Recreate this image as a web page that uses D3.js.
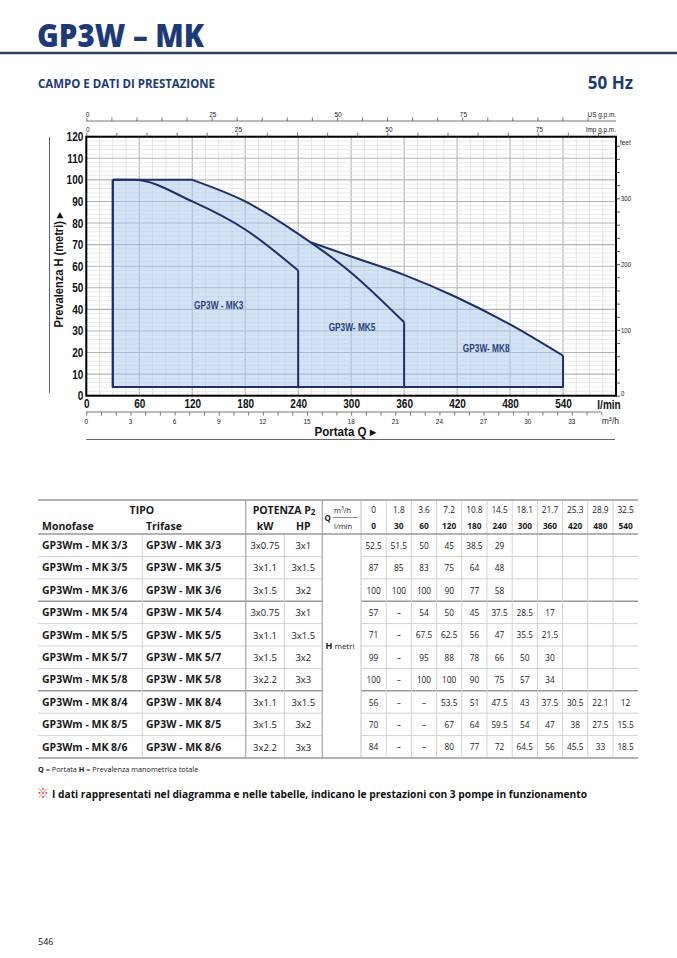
<!DOCTYPE html>
<html><head><meta charset="utf-8">
<script src="https://cdn.jsdelivr.net/npm/d3@7"></script>
<style>body{margin:0;background:#fff} svg{display:block}</style>
</head><body><svg id="c" width="677" height="958"></svg>
<script>
// ---------- chart data ----------
const flowAxisTicks = [0, 60, 120, 180, 240, 300, 360, 420, 480, 540];
const headAxisTicks = [0, 10, 20, 30, 40, 50, 60, 70, 80, 90, 100, 110, 120];
const m3hAxisLabels = [0, 3, 6, 9, 12, 15, 18, 21, 24, 27, 30, 33];
const usGpmLabels = [0, 25, 50, 75];
const impGpmLabels = [0, 25, 50, 75];
const feetLabels = [0, 100, 200, 300];

// envelope curves (flow l/min, head m)
const mk3Flow = [30, 54, 120, 180, 240];
const mk3Head = [100, 100, 90, 77, 58];
const mk5Flow = [120, 180, 240, 300, 360];
const mk5Head = [100, 90, 75, 57, 34];
const mk8Flow = [255, 300, 360, 420, 480, 540];
const mk8Head = [71, 64.5, 56, 45.5, 33, 18.5];
const envelopeMinFlow = 30;
const envelopeMinHead = 4;
const regionNames = ["GP3W - MK3", "GP3W- MK5", "GP3W- MK8"];
const regionLabelFlow = [150, 301, 453];
const regionLabelHead = [42, 32, 22];

// ---------- table data ----------
const qM3h = ["0", "1.8", "3.6", "7.2", "10.8", "14.5", "18.1", "21.7", "25.3", "28.9", "32.5"];
const qLmin = ["0", "30", "60", "120", "180", "240", "300", "360", "420", "480", "540"];
const monofase = ["GP3Wm - MK 3/3", "GP3Wm - MK 3/5", "GP3Wm - MK 3/6", "GP3Wm - MK 5/4", "GP3Wm - MK 5/5",
  "GP3Wm - MK 5/7", "GP3Wm - MK 5/8", "GP3Wm - MK 8/4", "GP3Wm - MK 8/5", "GP3Wm - MK 8/6"];
const trifase = ["GP3W - MK 3/3", "GP3W - MK 3/5", "GP3W - MK 3/6", "GP3W - MK 5/4", "GP3W - MK 5/5",
  "GP3W - MK 5/7", "GP3W - MK 5/8", "GP3W - MK 8/4", "GP3W - MK 8/5", "GP3W - MK 8/6"];
const powerKW = ["3x0.75", "3x1.1", "3x1.5", "3x0.75", "3x1.1", "3x1.5", "3x2.2", "3x1.1", "3x1.5", "3x2.2"];
const powerHP = ["3x1", "3x1.5", "3x2", "3x1", "3x1.5", "3x2", "3x3", "3x1.5", "3x2", "3x3"];
const headRows = [
  ["52.5", "51.5", "50", "45", "38.5", "29"],
  ["87", "85", "83", "75", "64", "48"],
  ["100", "100", "100", "90", "77", "58"],
  ["57", "–", "54", "50", "45", "37.5", "28.5", "17"],
  ["71", "–", "67.5", "62.5", "56", "47", "35.5", "21.5"],
  ["99", "–", "95", "88", "78", "66", "50", "30"],
  ["100", "–", "100", "100", "90", "75", "57", "34"],
  ["56", "–", "–", "53.5", "51", "47.5", "43", "37.5", "30.5", "22.1", "12"],
  ["70", "–", "–", "67", "64", "59.5", "54", "47", "38", "27.5", "15.5"],
  ["84", "–", "–", "80", "77", "72", "64.5", "56", "45.5", "33", "18.5"]
];
const groupEnds = [3, 7];

// ---------- drawing ----------
const svg = d3.select("#c");
const NAVY = "#1d3a78", LINE = "#1f2f6b";
const COND = "'Liberation Sans',Arial,sans-serif";
const SANS = "'Open Sans','Noto Sans',sans-serif";
function condense(sel, f) {
  sel.each(function () {
    const w = this.getComputedTextLength();
    d3.select(this).attr("textLength", w * f).attr("lengthAdjust", "spacingAndGlyphs");
  });
}

// header
svg.append("text").attr("x", 37).attr("y", 47).text("GP3W – MK")
  .attr("font-family", SANS).attr("font-weight", 800).attr("font-size", 31).attr("fill", NAVY)
  .attr("textLength", 167).attr("lengthAdjust", "spacingAndGlyphs");
svg.append("line").attr("x1", 0).attr("x2", 677).attr("y1", 53).attr("y2", 53)
  .attr("stroke", "#2f3f68").attr("stroke-width", 2.5);
svg.append("text").attr("x", 38).attr("y", 88).text("CAMPO E DATI DI PRESTAZIONE")
  .attr("font-family", SANS).attr("font-weight", 700).attr("font-size", 11.5).attr("fill", NAVY)
  .attr("textLength", 177).attr("lengthAdjust", "spacingAndGlyphs");
svg.append("text").attr("x", 633).attr("y", 89).attr("text-anchor", "end").text("50 Hz")
  .attr("font-family", SANS).attr("font-weight", 700).attr("font-size", 17).attr("fill", NAVY);

// scales
const X0 = 86.3, X1 = 616, Y0 = 395.7, Y1 = 136.7;
const x = d3.scaleLinear().domain([0, 600]).range([X0, X1]);
const y = d3.scaleLinear().domain([0, 120]).range([Y0, Y1]);
const xUS = d3.scaleLinear().domain([0, 600 / (3.785 * 1.5)]).range([X0, X1]);
const xImp = d3.scaleLinear().domain([0, 600 / (4.546 * 1.5)]).range([X0, X1]);
const xM3 = d3.scaleLinear().domain([0, 36]).range([X0, X1]);
const yFt = d3.scaleLinear().domain([0, 120 / 0.3048]).range([Y0, Y1]);

// grid
const grid = svg.append("g");
grid.selectAll(".vm").data(d3.range(0, 601, 15)).join("line")
  .attr("x1", d => x(d)).attr("x2", d => x(d)).attr("y1", Y1).attr("y2", Y0)
  .attr("stroke", d => d % 60 === 0 ? "#b3b3b3" : "#dedede").attr("stroke-width", d => d % 60 === 0 ? 1.1 : 0.8);
grid.selectAll(".hm").data(d3.range(0, 121, 2)).join("line")
  .attr("y1", d => y(d)).attr("y2", d => y(d)).attr("x1", X0).attr("x2", X1)
  .attr("stroke", d => d % 10 === 0 ? "#b3b3b3" : "#e2e2e2").attr("stroke-width", d => d % 10 === 0 ? 1.1 : 0.7);

// envelopes
const regions = [
  {flow: mk3Flow, head: mk3Head, closed: true},
  {flow: mk5Flow, head: mk5Head, closed: true},
  {flow: mk8Flow, head: mk8Head, closed: false}
].map(r => ({pts: r.flow.map((q, i) => ({q, h: r.head[i]})), closed: r.closed}));

const area = d3.area().x(d => x(d.q)).y0(y(envelopeMinHead)).y1(d => y(d.h)).curve(d3.curveMonotoneX);
const areaLin = d3.area().x(d => x(d.q)).y0(y(envelopeMinHead)).y1(d => y(d.h));
const fillG = svg.append("g").attr("opacity", 0.5);
regions.forEach(r => {
  fillG.append("path").attr("d", area(r.pts)).attr("fill", "#a5c9ec");
  if (r.closed && r.pts[0].q > envelopeMinFlow)
    fillG.append("path").attr("d", areaLin([{q: envelopeMinFlow, h: r.pts[0].h}, r.pts[0]])).attr("fill", "#a5c9ec");
});

const line = d3.line().x(d => x(d.q)).y(d => y(d.h)).curve(d3.curveMonotoneX);
const straight = d3.line().x(d => x(d.q)).y(d => y(d.h));
const outG = svg.append("g").attr("fill", "none").attr("stroke", LINE).attr("stroke-width", 2).attr("stroke-linejoin", "round");
regions.forEach(r => {
  const p = r.pts, first = p[0], last = p[p.length - 1];
  let d = line(p);
  if (r.closed && first.q > envelopeMinFlow)
    d = straight([{q: envelopeMinFlow, h: first.h}, first]) + "L" + d.slice(1);
  outG.append("path").attr("d", d);
  const start = r.closed ? envelopeMinFlow : first.q;
  const frame = [{q: last.q, h: last.h}, {q: last.q, h: envelopeMinHead}, {q: start, h: envelopeMinHead}];
  if (r.closed) frame.push({q: start, h: first.h});
  outG.append("path").attr("d", straight(frame));
});

const rl = svg.selectAll(".rl").data(regionNames).join("text")
  .attr("x", (d, i) => x(regionLabelFlow[i])).attr("y", (d, i) => y(regionLabelHead[i]))
  .attr("dy", "0.35em").attr("text-anchor", "middle").text(d => d)
  .attr("font-family", COND).attr("font-weight", 700).attr("font-size", 11.5).attr("fill", "#283f80");
condense(rl, 0.72);

// frame
svg.append("rect").attr("x", X0).attr("y", Y1).attr("width", X1 - X0).attr("height", Y0 - Y1)
  .attr("fill", "none").attr("stroke", "#000").attr("stroke-width", 2);

// left axis
const yAx = svg.append("g").attr("transform", `translate(${X0},0)`)
  .call(d3.axisLeft(y).tickValues(headAxisTicks).tickSize(0).tickPadding(3));
yAx.select(".domain").remove();
yAx.selectAll("text").attr("font-family", COND).attr("font-weight", 700).attr("font-size", 12.5).attr("fill", "#111");
condense(yAx.selectAll("text"), 0.8);

// bottom l/min axis
const xAx = svg.append("g").attr("transform", `translate(0,${Y0})`)
  .call(d3.axisBottom(x).tickValues(flowAxisTicks).tickSize(0).tickPadding(3.5));
xAx.select(".domain").remove();
xAx.selectAll("text").attr("font-family", COND).attr("font-weight", 700).attr("font-size", 12.5).attr("fill", "#111");
condense(xAx.selectAll("text"), 0.8);
const lmin = svg.append("text").attr("x", 609).attr("y", 409).attr("text-anchor", "middle").text("l/min")
  .attr("font-family", COND).attr("font-weight", 700).attr("font-size", 12.5).attr("fill", "#111");
condense(lmin, 0.8);

// m3/h axis
const m3Ax = svg.append("g").attr("transform", "translate(0,412)")
  .call(d3.axisBottom(xM3).tickValues(d3.range(0, 36, 1)).tickSize(3.5).tickFormat(""));
m3Ax.select(".domain").attr("d", `M${X0},0H${xM3(35)}`).attr("stroke", "#555").attr("stroke-width", 0.8);
m3Ax.selectAll(".tick line").attr("stroke", "#555").attr("stroke-width", 0.8);
const m3l = svg.selectAll(".m3l").data(m3hAxisLabels).join("text")
  .attr("x", d => xM3(d)).attr("y", 424).attr("text-anchor", "middle").text(d => d)
  .attr("font-family", COND).attr("font-size", 8).attr("fill", "#222");
condense(m3l, 0.8);
svg.append("text").attr("x", 619).attr("y", 424).attr("text-anchor", "end")
  .attr("font-family", COND).attr("font-size", 8.5).attr("fill", "#222")
  .html('m<tspan dy="-3" font-size="5.5">3</tspan><tspan dy="3">/h</tspan>');
svg.append("text").attr("x", 345).attr("y", 436).attr("text-anchor", "middle").text("Portata  Q  ▸")
  .attr("font-family", COND).attr("font-weight", 700).attr("font-size", 12).attr("fill", "#111")
  .attr("textLength", 61).attr("lengthAdjust", "spacingAndGlyphs");
svg.append("line").attr("x1", X0).attr("x2", 615).attr("y1", 439.5).attr("y2", 439.5)
  .attr("stroke", "#666").attr("stroke-width", 1);

// y title
svg.append("line").attr("x1", 49.5).attr("x2", 49.5).attr("y1", 137).attr("y2", 393)
  .attr("stroke", "#666").attr("stroke-width", 1);
svg.append("text").attr("transform", "translate(63,270) rotate(-90)").attr("text-anchor", "middle")
  .text("Prevalenza  H  (metri)  ▸")
  .attr("font-family", COND).attr("font-weight", 700).attr("font-size", 12).attr("fill", "#111")
  .attr("textLength", 115).attr("lengthAdjust", "spacingAndGlyphs");

// top US gpm axis
const usAx = svg.append("g").attr("transform", "translate(0,121)")
  .call(d3.axisTop(xUS).tickValues(d3.range(0, 105, 5)).tickSize(3.5).tickFormat(""));
usAx.select(".domain").attr("d", `M${X0},0H${X1}`).attr("stroke", "#555").attr("stroke-width", 0.8);
usAx.selectAll(".tick line").attr("stroke", "#555").attr("stroke-width", 0.8);
const usl = svg.selectAll(".usl").data(usGpmLabels).join("text")
  .attr("x", d => xUS(d) + 1.2).attr("y", 117).attr("text-anchor", "middle").text(d => d)
  .attr("font-family", COND).attr("font-size", 8).attr("fill", "#222");
condense(usl, 0.8);
const usT = svg.append("text").attr("x", 616).attr("y", 116.5).attr("text-anchor", "end").text("US g.p.m.")
  .attr("font-family", COND).attr("font-size", 8).attr("fill", "#222");
condense(usT, 0.8);

// top Imp gpm ticks
const impAx = svg.append("g").attr("transform", `translate(0,${Y1})`)
  .call(d3.axisTop(xImp).tickValues(d3.range(0, 88, 5)).tickSize(4).tickFormat(""));
impAx.select(".domain").remove();
impAx.selectAll(".tick line").attr("stroke", "#555").attr("stroke-width", 0.8);
const impl = svg.selectAll(".impl").data(impGpmLabels).join("text")
  .attr("x", d => xImp(d) + 1.6).attr("y", 131.5).attr("text-anchor", "middle").text(d => d)
  .attr("font-family", COND).attr("font-size", 8).attr("fill", "#222");
condense(impl, 0.8);
const impT = svg.append("text").attr("x", 616).attr("y", 131.5).attr("text-anchor", "end").text("Imp g.p.m.")
  .attr("font-family", COND).attr("font-size", 8).attr("fill", "#222");
condense(impT, 0.8);

// right feet axis
const ftAx = svg.append("g").attr("transform", `translate(${X1},0)`)
  .call(d3.axisRight(yFt).tickValues(d3.range(0, 381, 20)).tickSize(4).tickFormat(""));
ftAx.select(".domain").remove();
ftAx.selectAll(".tick line").attr("stroke", "#333").attr("stroke-width", 0.8);
const ftl = svg.selectAll(".ftl").data(feetLabels).join("text")
  .attr("x", X1 + 5).attr("y", d => yFt(d)).attr("dy", d => d === 0 ? "0.1em" : "0.35em").text(d => d)
  .attr("font-family", COND).attr("font-size", 7.5).attr("fill", "#222");
condense(ftl, 0.8);
const feetT = svg.append("text").attr("x", 620).attr("y", 145).text("feet")
  .attr("font-family", COND).attr("font-size", 8).attr("fill", "#222");
condense(feetT, 0.8);

// ---------- table ----------
const TX0 = 38, TX1 = 638, TTOP = 500, THB = 534, RH = 22.4;
const cTri = 142.3, cKw = 245.7, cHp = 284.3, cQ = 322.3, cNum = 361, colW = 25.2;
const TBOT = THB + RH * monofase.length;
const tg = svg.append("g");
const hl = (x1, x2, yy, col, w) => tg.append("line").attr("x1", x1).attr("x2", x2).attr("y1", yy).attr("y2", yy).attr("stroke", col).attr("stroke-width", w);
const vl = (xx, y1, y2, col, w) => tg.append("line").attr("x1", xx).attr("x2", xx).attr("y1", y1).attr("y2", y2).attr("stroke", col).attr("stroke-width", w);

for (let i = 1; i < monofase.length; i++) {
  const yy = THB + RH * i;
  const grp = groupEnds.includes(i);
  hl(TX0, cQ, yy, grp ? "#9a9a9a" : "#d2d2d2", grp ? 1.5 : 1);
  hl(cNum, TX1, yy, grp ? "#9a9a9a" : "#d2d2d2", grp ? 1.5 : 1);
}
vl(cTri, THB, TBOT, "#d2d2d2", 1);
vl(cHp, THB, TBOT, "#d2d2d2", 1);
vl(cKw, TTOP, TBOT, "#a8a8a8", 1.2);
vl(cQ, TTOP, TBOT, "#a8a8a8", 1.2);
qLmin.forEach((d, i) => { if (i > 0) vl(cNum + colW * i, TTOP, TBOT, "#d2d2d2", 1); });
vl(cNum, TTOP, TBOT, "#c4c4c4", 1);
hl(TX0, TX1, TTOP, "#9a9a9a", 1.6);
hl(TX0, TX1, THB, "#9a9a9a", 1.4);
hl(TX0, TX1, TBOT, "#9a9a9a", 1.6);

const txt = (xx, yy, s, o = {}) => tg.append("text").attr("x", xx).attr("y", yy).text(s)
  .attr("text-anchor", o.anchor || "start").attr("font-family", SANS)
  .attr("font-weight", o.bold ? 700 : 400).attr("font-size", o.size || 9).attr("fill", o.fill || "#1a1a1a");

txt((TX0 + cKw) / 2, 513.5, "TIPO", {anchor: "middle", bold: true, size: 10.5});
tg.append("text").attr("x", (cKw + cQ) / 2).attr("y", 513.5).attr("text-anchor", "middle")
  .attr("font-family", SANS).attr("font-weight", 700).attr("font-size", 10.5).attr("fill", "#1a1a1a")
  .html('POTENZA P<tspan font-size="8" dy="1">2</tspan>');
txt(42, 529.5, "Monofase", {bold: true, size: 10.5});
txt(146, 529.5, "Trifase", {bold: true, size: 10.5});
txt((cKw + cHp) / 2, 529.5, "kW", {anchor: "middle", bold: true, size: 10.5});
txt((cHp + cQ) / 2, 529.5, "HP", {anchor: "middle", bold: true, size: 10.5});
txt(324.5, 520.5, "Q", {bold: true, size: 8});
tg.append("text").attr("x", 334).attr("y", 512.5).attr("font-family", SANS).attr("font-size", 7.5).attr("fill", "#1a1a1a")
  .html('m<tspan dy="-2.5" font-size="5">3</tspan><tspan dy="2.5">/h</tspan>');
txt(334, 528.5, "l/min", {size: 7.5});
tg.append("line").attr("x1", 333).attr("x2", 358).attr("y1", 517.5).attr("y2", 517.5).attr("stroke", "#444").attr("stroke-width", 0.6);
tg.selectAll(".qm").data(qM3h).join("text").attr("x", (d, i) => cNum + colW * (i + 0.5)).attr("y", 512.5)
  .attr("text-anchor", "middle").text(d => d).attr("font-family", SANS).attr("font-size", 8.3).attr("fill", "#1a1a1a");
tg.selectAll(".ql").data(qLmin).join("text").attr("x", (d, i) => cNum + colW * (i + 0.5)).attr("y", 528.5)
  .attr("text-anchor", "middle").text(d => d).attr("font-family", SANS).attr("font-weight", 700).attr("font-size", 8.3).attr("fill", "#1a1a1a");

monofase.forEach((m, r) => {
  const yy = THB + RH * (r + 0.5) + 3.8;
  txt(42, yy, m, {bold: true, size: 10.5});
  txt(146, yy, trifase[r], {bold: true, size: 10.5});
  txt((cKw + cHp) / 2, yy, powerKW[r], {anchor: "middle", size: 9.5});
  txt((cHp + cQ) / 2, yy, powerHP[r], {anchor: "middle", size: 9.5});
  headRows[r].forEach((v, c) => txt(cNum + colW * (c + 0.5), yy - 0.3, v, {anchor: "middle", size: 8.3}));
});
tg.append("text").attr("x", 325.5).attr("y", (THB + TBOT) / 2 + 3).attr("font-family", SANS).attr("font-size", 8).attr("fill", "#1a1a1a")
  .html('<tspan font-weight="700" font-size="9">H</tspan> metri');

// footnotes
svg.append("text").attr("x", 38).attr("y", 771.5).attr("font-family", SANS).attr("font-size", 7.3).attr("fill", "#1a1a1a")
  .html('<tspan font-weight="700">Q</tspan> = Portata   <tspan font-weight="700">H</tspan> = Prevalenza manometrica totale');
svg.append("text").attr("x", 37).attr("y", 798).text("※").attr("font-family", "'Noto Sans CJK JP','DejaVu Sans',sans-serif")
  .attr("font-weight", 700).attr("font-size", 12).attr("fill", "#e0301e");
svg.append("text").attr("x", 52).attr("y", 797.5)
  .text("I dati rappresentati nel diagramma e nelle tabelle, indicano le prestazioni con 3 pompe in funzionamento")
  .attr("font-family", SANS).attr("font-weight", 700).attr("font-size", 10.5).attr("fill", "#111")
  .attr("textLength", 535).attr("lengthAdjust", "spacingAndGlyphs");
svg.append("text").attr("x", 38).attr("y", 945).text("546").attr("font-family", SANS).attr("font-size", 9).attr("fill", "#222");
</script></body></html>
